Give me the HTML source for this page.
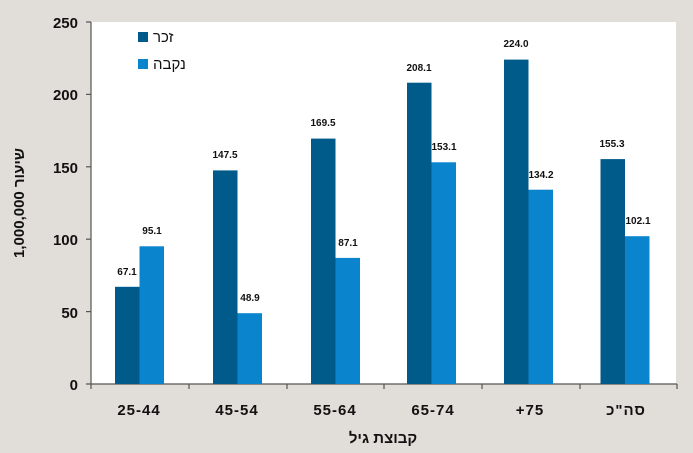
<!DOCTYPE html>
<html><head><meta charset="utf-8"><style>
body{margin:0;background:#e1ddd8;}
svg{display:block;font-family:"Liberation Sans","DejaVu Sans",sans-serif;}
</style></head><body>
<svg width="693" height="453" viewBox="0 0 693 453">
<rect width="693" height="453" fill="#e1ddd8"/>
<rect x="91" y="22" width="585" height="362" fill="#fff"/>
<line x1="91" y1="22" x2="91" y2="389" stroke="#555" stroke-width="1.2"/>
<line x1="86" y1="384" x2="677" y2="384" stroke="#555" stroke-width="1.2"/>
<g stroke="#555" stroke-width="1.2">
<line x1="86" y1="22" x2="91" y2="22"/><line x1="86" y1="94.4" x2="91" y2="94.4"/><line x1="86" y1="166.8" x2="91" y2="166.8"/><line x1="86" y1="239.2" x2="91" y2="239.2"/><line x1="86" y1="311.6" x2="91" y2="311.6"/>
<line x1="189" y1="384" x2="189" y2="389"/><line x1="287" y1="384" x2="287" y2="389"/><line x1="384" y1="384" x2="384" y2="389"/><line x1="482" y1="384" x2="482" y2="389"/><line x1="580" y1="384" x2="580" y2="389"/><line x1="677" y1="384" x2="677" y2="389"/>
</g>
<g font-size="15" font-weight="bold" fill="#111" text-anchor="end">
<text x="78" y="28">250</text><text x="78" y="100">200</text><text x="78" y="173">150</text><text x="78" y="245">100</text><text x="78" y="318">50</text><text x="78" y="390">0</text>
</g>
<g font-size="15" font-weight="bold" fill="#111" text-anchor="middle" letter-spacing="1">
<text x="139" y="415">25-44</text><text x="237" y="415">45-54</text><text x="335" y="415">55-64</text><text x="433" y="415">65-74</text><text x="530" y="415">+75</text><text x="626" y="415">סה"כ</text>
</g>
<text x="383" y="443" font-size="15" font-weight="bold" fill="#111" text-anchor="middle">קבוצת גיל</text>
<text transform="translate(24,203) rotate(-90)" font-size="15" font-weight="bold" fill="#111" text-anchor="middle">שיעור 1,000,000</text>
<rect x="138" y="32" width="10" height="10" fill="#005b8a"/>
<text x="153" y="42" font-size="15" fill="#111">זכר</text>
<rect x="138" y="59" width="10" height="10" fill="#0a84cc"/>
<text x="153" y="69" font-size="15" fill="#111">נקבה</text>
<g font-size="10" font-weight="bold" fill="#111" text-anchor="middle">
<rect x="115" y="286.8" width="24.5" height="97.2" fill="#005b8a"/><rect x="139.5" y="246.3" width="24.5" height="137.7" fill="#0a84cc"/>
<text x="127" y="275">67.1</text><text x="152" y="234">95.1</text>
<rect x="213" y="170.4" width="24.5" height="213.6" fill="#005b8a"/><rect x="237.5" y="313.2" width="24.5" height="70.8" fill="#0a84cc"/>
<text x="225" y="158">147.5</text><text x="250" y="301">48.9</text>
<rect x="311" y="138.6" width="24.5" height="245.4" fill="#005b8a"/><rect x="335.5" y="257.9" width="24.5" height="126.1" fill="#0a84cc"/>
<text x="323" y="126">169.5</text><text x="348" y="246">87.1</text>
<rect x="407" y="82.7" width="24.5" height="301.3" fill="#005b8a"/><rect x="431.5" y="162.3" width="24.5" height="221.7" fill="#0a84cc"/>
<text x="419" y="71">208.1</text><text x="444" y="150">153.1</text>
<rect x="504" y="59.6" width="24.5" height="324.4" fill="#005b8a"/><rect x="528.5" y="189.7" width="24.5" height="194.3" fill="#0a84cc"/>
<text x="516" y="47">224.0</text><text x="541" y="178">134.2</text>
<rect x="600.5" y="159.1" width="24.5" height="224.9" fill="#005b8a"/><rect x="625" y="236.2" width="24.5" height="147.8" fill="#0a84cc"/>
<text x="612" y="147">155.3</text><text x="638" y="224">102.1</text>
</g>
</svg>
</body></html>
